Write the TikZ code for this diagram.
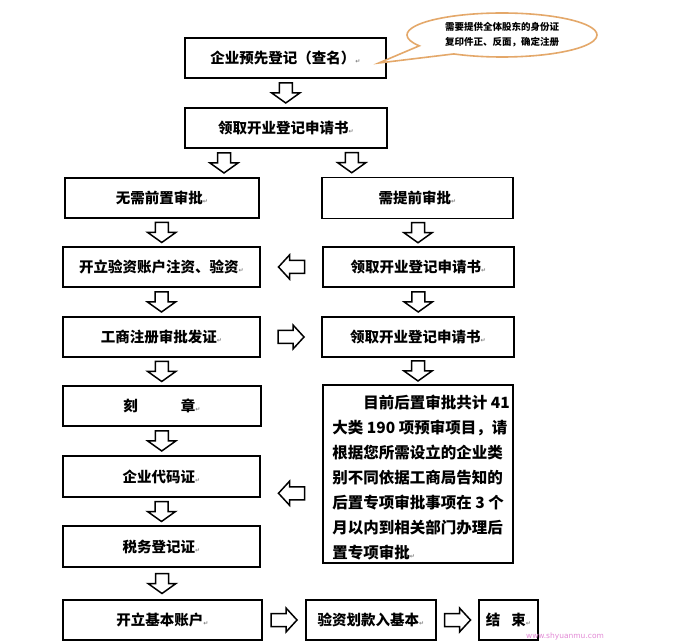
\documentclass[tikz,border=0pt]{standalone}
\usepackage{fontspec}
\newfontfamily\cjk{Noto Sans CJK SC}
\newfontfamily\dvs{DejaVu Sans}
\usetikzlibrary{calc,shapes.callouts}
\definecolor{calloutc}{HTML}{E4A86A}
\definecolor{wmark}{HTML}{E38AD6}
\newcommand\pmark{{\fontsize{6}{6}\selectfont\dvs\color{gray}↵}}
\tikzset{
  box/.style={draw=black, line width=1.6pt, fill=white, inner sep=0pt,
    font=\cjk\bfseries\fontsize{14.5}{17}\selectfont},
  blockarrow/.style={draw=black, line width=1.5pt, fill=white, line join=miter},
  downarr/.pic={\path[blockarrow] (-6.5,-10) -- (6.5,-10) -- (6.5,0) -- (14,0) -- (0,10) -- (-14,0) -- (-6.5,0) -- cycle;},
  leftarr/.pic={\path[blockarrow] (-13,0) -- (-2,-12) -- (-2,-6.5) -- (13,-6.5) -- (13,6.5) -- (-2,6.5) -- (-2,12) -- cycle;},
  rightarr/.pic={\path[blockarrow] (13,0) -- (2,-12) -- (2,-6.5) -- (-13,-6.5) -- (-13,6.5) -- (2,6.5) -- (2,12) -- cycle;},
}
\begin{document}
\begin{tikzpicture}[x=1pt,y=-1pt]
\useasboundingbox[fill=white] (0,0) rectangle (686,644);

% top
\node[box, minimum width=201, minimum height=40] (b1) at (285.5,58) {企业预先登记（查名）\pmark};
\node[box, minimum width=202, minimum height=40] (b2) at (286,128) {领取开业登记申请书\pmark};

% callout
\node[ellipse callout, draw=calloutc, line width=1.6pt, fill=white,
  minimum width=190, minimum height=44, inner sep=0pt,
  callout absolute pointer={($(b1.east)+(-8,5)$)}, callout pointer arc=30,
  align=center, font=\cjk\bfseries\fontsize{9.5}{15}\selectfont] (note) at (502,35)
  {需要提供全体股东的身份证\\复印件正、反面，确定注册};

% left column
\node[box, minimum width=194, minimum height=40] (L1) at (162,198) {无需前置审批\pmark};
\node[box, minimum width=197, minimum height=40] (L2) at (161.5,267) {开立验资账户注资、验资\pmark};
\node[box, minimum width=197, minimum height=40] (L3) at (161.5,337) {工商注册审批发证\pmark};
\node[box, minimum width=198, minimum height=40] (L4) at (162,406) {刻\hspace{43pt}章\pmark};
\node[box, minimum width=197, minimum height=41] (L5) at (161.5,476.5) {企业代码证\pmark};
\node[box, minimum width=197, minimum height=41] (L6) at (161.5,546.5) {税务登记证\pmark};
\node[box, minimum width=199, minimum height=40] (B1) at (162.5,620) {开立基本账户\pmark};
\node[box, minimum width=130, minimum height=40] (B2) at (371,620) {验资划款入基本\pmark};
\node[box, minimum width=59, minimum height=40] (B3) at (508.5,620) {结\hspace{11pt}束\pmark};

% right column
\node[box, minimum width=191, minimum height=41] (R1) at (417.5,198) {需提前审批\pmark};
\node[box, minimum width=191, minimum height=40] (R2) at (418.5,267) {领取开业登记申请书\pmark};
\node[box, minimum width=192, minimum height=40] (R3) at (418,337) {领取开业登记申请书\pmark};
\node[box, minimum width=190, minimum height=178] (pb) at (418,474) {};
\node[anchor=north west, inner sep=0pt, align=left,
  font=\cjk\bfseries\fontsize{15.5}{25}\selectfont] (pbt) at ($(pb.north west)+(10,11)$)
  {\hspace*{2em}目前后置审批共计 41\\
   大类 190 项预审项目，请\\
   根据您所需设立的企业类\\
   别不同依据工商局告知的\\
   后置专项审批事项在 3 个\\
   月以内到相关部门办理后\\
   置专项审批\pmark};

% block arrows
\pic at ($(b1.south)!0.5!(b2.north)$) {downarr};
\pic at ($(b2.south)!0.5!(L1.north)$) {downarr};
\pic at ($(b2.south)!0.5!(R1.north)$) {downarr};
\pic at ($(L1.south)!0.5!(L2.north)$) {downarr};
\pic at ($(R1.south)!0.5!(R2.north)$) {downarr};
\pic at ($(L2.south)!0.5!(L3.north)$) {downarr};
\pic at ($(R2.south)!0.5!(R3.north)$) {downarr};
\pic at ($(L3.south)!0.5!(L4.north)$) {downarr};
\pic at ($(R3.south)!0.5!(pb.north)$) {downarr};
\pic at ($(L4.south)!0.5!(L5.north)$) {downarr};
\pic at ($(L5.south)!0.5!(L6.north)$) {downarr};
\pic at ($(L6.south)!0.5!(B1.north)$) {downarr};
\pic at ($(R2.west)!0.5!(L2.east)$) {leftarr};
\pic at ($(L3.east)!0.5!(R3.west)$) {rightarr};
\pic at ($(L5.east)!0.5!(pb.west)+(0,18)$) {leftarr};
\pic at ($(B1.east)!0.5!(B2.west)$) {rightarr};
\pic at ($(B2.east)!0.5!(B3.west)$) {rightarr};

% watermark
\node[text=wmark, inner sep=0pt, font=\dvs\fontsize{7.5}{8}\selectfont] (wm) at (565,636) {www.shyuanmu.com};
\end{tikzpicture}
\end{document}
